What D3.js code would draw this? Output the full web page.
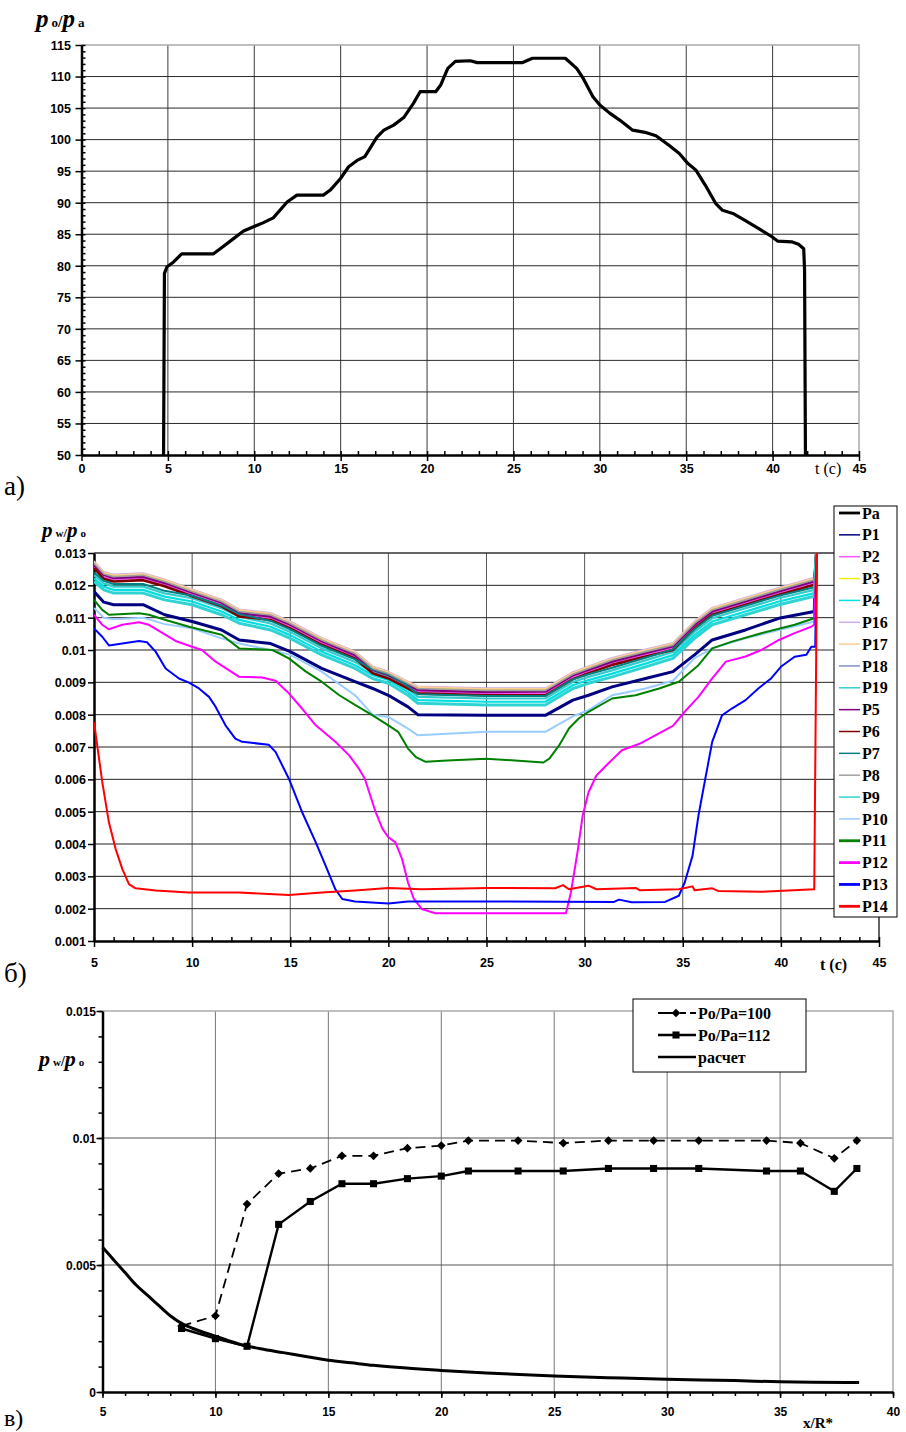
<!DOCTYPE html>
<html>
<head>
<meta charset="utf-8">
<script src="https://cdn.jsdelivr.net/npm/d3@7"></script>
<style>
  body { margin: 0; background: #fff; }
  svg text { font-family: "Liberation Sans", Arial, sans-serif; }
  .serif { font-family: "Liberation Serif", "Times New Roman", serif !important; }
</style>
</head>
<body>
<div id="chart"></div>
<script>
// ---------- chart a): p0/pa versus t ----------
var tTop = [4.75, 4.8, 4.94, 5.33, 5.8, 7.64, 8.03, 8.8, 9.38, 9.96, 10.5, 11.1, 11.9, 12.47, 14.0, 14.4, 14.98, 15.46, 15.95, 16.4, 17.1, 17.5, 18.07, 18.65, 19.2, 19.6, 20.5, 20.8, 21.2, 21.64, 22.5, 22.9, 25.5, 26.1, 28.0, 28.66, 29.04, 29.6, 30.0, 30.57, 31.15, 31.9, 32.7, 33.25, 34.0, 34.6, 35.1, 35.55, 36.1, 36.7, 37.1, 37.7, 38.4, 39.2, 39.96, 40.3, 41.1, 41.5, 41.8, 41.85, 41.9];
var poPa = [50, 78.8, 79.8, 80.6, 81.9, 81.9, 82.7, 84.3, 85.5, 86.2, 86.8, 87.6, 90.1, 91.2, 91.2, 92.0, 93.8, 95.7, 96.7, 97.3, 100.4, 101.5, 102.3, 103.5, 105.7, 107.6, 107.6, 108.7, 111.3, 112.4, 112.5, 112.2, 112.2, 112.9, 112.9, 111.3, 109.7, 106.8, 105.5, 104.2, 103.1, 101.5, 101.1, 100.6, 99.1, 97.8, 96.2, 95.2, 92.8, 89.9, 88.8, 88.3, 87.2, 85.9, 84.6, 83.9, 83.8, 83.4, 82.7, 79.3, 50];
var topXTicks = [0, 5, 10, 15, 20, 25, 30, 35, 40, 45];
var topYTicks = [50, 55, 60, 65, 70, 75, 80, 85, 90, 95, 100, 105, 110, 115];

// ---------- chart б): pw/p0 versus t, 19 gauges ----------
var midNames = ["Pa", "P1", "P2", "P3", "P4", "P16", "P17", "P18", "P19", "P5", "P6", "P7", "P8", "P9", "P10", "P11", "P12", "P13", "P14"];
var midColors = ["#000000", "#000080", "#ff55ff", "#f5f000", "#00e0e0", "#c8b0e8", "#ffcc99", "#7f90c8", "#33cccc", "#800080", "#800000", "#008080", "#a0a0a0", "#2fd3d3", "#99ccff", "#008000", "#ff00ff", "#0000ff", "#ff0000"];

var tBand = [5, 5.5, 6, 7.5, 8.6, 10, 11.5, 12.4, 14, 15, 16.6, 18.3, 19.2, 20, 21, 21.5, 25, 28, 29.4, 30.2, 31.4, 33.1, 34.5, 35.6, 36.5, 38.2, 39.9, 41.7, 41.85];
var vP1  = [.01181, .01148, .01140, .01140, .01109, .01088, .01062, .01031, .01020, .00995, .00943, .00902, .00881, .00860, .00824, .00800, .00798, .00798, .00845, .00860, .00886, .00912, .00933, .00985, .01031, .01062, .01098, .01119, .0135];
var vP2  = [.01258, .01226, .01218, .01222, .01203, .01172, .01141, .01110, .01099, .01073, .01022, .00980, .00934, .00918, .00887, .00872, .00866, .00866, .00916, .00934, .00960, .00986, .01006, .01073, .01115, .01146, .01177, .01208, .0135];
var vP3  = [.01270, .01238, .01230, .01234, .01215, .01184, .01153, .01122, .01111, .01085, .01034, .00992, .00946, .00930, .00899, .00884, .00878, .00878, .00928, .00946, .00972, .00998, .01018, .01085, .01127, .01158, .01189, .01220, .0135];
var vP4  = [.01222, .01196, .01186, .01186, .01165, .01150, .01119, .01093, .01072, .01046, .00995, .00953, .00922, .00907, .00870, .00845, .00840, .00840, .00891, .00907, .00927, .00958, .00984, .01046, .01088, .01119, .01150, .01176, .0135];
var vP16 = [.01275, .01242, .01234, .01238, .01219, .01188, .01157, .01126, .01115, .01089, .01038, .00996, .00950, .00934, .00903, .00888, .00882, .00882, .00932, .00950, .00976, .01002, .01022, .01089, .01131, .01162, .01193, .01224, .0135];
var vP17 = [.01273, .01240, .01232, .01236, .01217, .01186, .01155, .01124, .01113, .01087, .01036, .00994, .00948, .00932, .00901, .00886, .00880, .00880, .00930, .00948, .00974, .01000, .01020, .01087, .01129, .01160, .01191, .01222, .0135];
var vP18 = [.01265, .01232, .01224, .01228, .01209, .01178, .01147, .01116, .01105, .01079, .01028, .00986, .00940, .00924, .00893, .00878, .00872, .00872, .00922, .00940, .00966, .00992, .01012, .01079, .01121, .01152, .01183, .01214, .0135];
var vP19 = [.01232, .01206, .01196, .01196, .01175, .01160, .01129, .01103, .01082, .01056, .01005, .00963, .00932, .00917, .00880, .00855, .00850, .00850, .00901, .00917, .00937, .00968, .00994, .01056, .01098, .01129, .01160, .01186, .0135];
var vP5  = [.01262, .01232, .01222, .01226, .01207, .01177, .01146, .01114, .01103, .01078, .01027, .00984, .00938, .00922, .00891, .00876, .00870, .00871, .00921, .00938, .00964, .00990, .01011, .01078, .01119, .01150, .01181, .01212, .0135];
var vP6  = [.01253, .01220, .01212, .01216, .01197, .01166, .01135, .01104, .01093, .01067, .01016, .00974, .00928, .00912, .00881, .00866, .00860, .00860, .00910, .00928, .00954, .00980, .01000, .01067, .01109, .01140, .01171, .01202, .0135];
var vP7  = [.01240, .01214, .01204, .01204, .01183, .01168, .01137, .01111, .01090, .01064, .01013, .00971, .00940, .00925, .00888, .00863, .00858, .00858, .00909, .00925, .00945, .00976, .01002, .01064, .01106, .01137, .01168, .01194, .0135];
var vP8  = [.01268, .01235, .01227, .01231, .01212, .01181, .01150, .01119, .01108, .01082, .01031, .00989, .00943, .00927, .00896, .00881, .00875, .00875, .00925, .00943, .00969, .00995, .01015, .01082, .01124, .01155, .01186, .01217, .0135];
var vP9  = [.01212, .01186, .01176, .01176, .01155, .01140, .01109, .01083, .01062, .01036, .00985, .00943, .00912, .00897, .00860, .00835, .00830, .00830, .00881, .00897, .00917, .00948, .00974, .01036, .01078, .01109, .01140, .01166, .0135];
var vP10 = [.01130, .01100, .01095, .01100, .01080, .01067, .01036, .01020, .01000, .00985, .00933, .00860, .00800, .00793, .00757, .00736, .00747, .00747, .00795, .00814, .00860, .00881, .00905, .00975, .01005, .01036, .01062, .01088, .0135];

var tP11 = [5, 5.42, 5.76, 7.3, 7.8, 8.65, 9.84, 11.5, 12.4, 14.1, 14.93, 15.8, 16.6, 17.5, 18.3, 19.2, 20, 20.5, 21, 21.4, 21.9, 23, 25, 27.9, 28.2, 28.7, 29.2, 29.7, 30.2, 31.4, 32.6, 33.8, 34.8, 35.8, 36.5, 37.5, 39, 40.7, 41.7, 41.85];
var vP11 = [.01155, .01124, .01109, .01114, .01109, .01093, .01072, .01047, .01005, .01000, .00974, .00933, .00902, .00860, .00830, .00798, .00767, .00747, .00695, .00669, .00654, .00658, .00664, .00652, .00664, .00705, .00757, .00788, .00809, .00850, .00860, .00881, .00902, .00953, .01005, .01026, .01052, .01078, .01098, .0135];
var tP12 = [5, 5.42, 5.76, 6.44, 7.3, 7.8, 8.65, 9.16, 10, 10.5, 11.2, 11.87, 12.4, 13.57, 14.25, 14.93, 15.6, 16.3, 17.3, 18, 18.5, 18.8, 19.35, 19.7, 20, 20.36, 20.7, 21, 21.3, 21.7, 22.4, 25, 29.05, 29.3, 29.65, 29.9, 30.2, 30.6, 31.1, 31.9, 32.8, 33.6, 34.5, 35.1, 35.8, 36.5, 37.2, 38.2, 39, 39.9, 40.7, 41.55, 41.7, 41.85];
var vP12 = [.01109, .01078, .01064, .01078, .01086, .01078, .01047, .01028, .01010, .01000, .00964, .00938, .00917, .00915, .00905, .00866, .00819, .00767, .00716, .00674, .00633, .00602, .00499, .00447, .00421, .00405, .00353, .00281, .00230, .00199, .00186, .00186, .00186, .00250, .00380, .00488, .00560, .00612, .00643, .00690, .00710, .00736, .00765, .00809, .00855, .00912, .00964, .00980, .01000, .01031, .01052, .01072, .01078, .0135];
var tP13 = [5, 5.42, 5.76, 6.44, 7.3, 7.7, 8.14, 8.65, 9.33, 9.84, 10.35, 10.86, 11.2, 11.7, 12.2, 12.55, 13.9, 14.25, 14.93, 15.6, 16.3, 16.8, 17.3, 17.65, 18.3, 20, 21, 25, 31.5, 31.75, 32.4, 34.1, 34.8, 35.1, 35.5, 35.8, 36.15, 36.5, 37, 37.5, 38.2, 38.85, 39.5, 40, 40.7, 41.3, 41.55, 41.75, 41.85];
var vP13 = [.01067, .01041, .01014, .01020, .01028, .01024, .00995, .00943, .00912, .00899, .00881, .00855, .00824, .00767, .00726, .00716, .00707, .00685, .00602, .00499, .00405, .00333, .00260, .00230, .00222, .00216, .00222, .00222, .00221, .00228, .00220, .00221, .00240, .00281, .00364, .00488, .00602, .00716, .00798, .00819, .00845, .00881, .00912, .00948, .00979, .00985, .01010, .01010, .0135];
var tP14 = [5, 5.42, 5.76, 6.1, 6.44, 6.78, 7.12, 8.14, 9.84, 12.4, 14.93, 16.6, 18.3, 20, 21.7, 25.1, 28.5, 28.9, 29.2, 30.2, 30.6, 32.6, 32.8, 34.8, 35.5, 35.6, 36.5, 36.8, 39, 41.7, 41.85];
var vP14 = [.00778, .00592, .00467, .00385, .00323, .00276, .00263, .00256, .00250, .00250, .00242, .00250, .00256, .00264, .00260, .00264, .00263, .00273, .00260, .00271, .00260, .00264, .00257, .00260, .00269, .00257, .00263, .00255, .00252, .00260, .0135];

var midXTicks = [5, 10, 15, 20, 25, 30, 35, 40, 45];
var midYTicks = [0.001, 0.002, 0.003, 0.004, 0.005, 0.006, 0.007, 0.008, 0.009, 0.01, 0.011, 0.012, 0.013];

// ---------- chart в): pw/p0 versus x/R* ----------
var xPts = [8.5, 10, 11.4, 12.8, 14.2, 15.6, 17, 18.5, 20, 21.2, 23.4, 25.4, 27.4, 29.4, 31.4, 34.4, 35.9, 37.4, 38.4];
var pw100 = [0.0026, 0.0030, 0.0074, 0.0086, 0.0088, 0.0093, 0.0093, 0.0096, 0.0097, 0.0099, 0.0099, 0.0098, 0.0099, 0.0099, 0.0099, 0.0099, 0.0098, 0.0092, 0.0099];
var pw112 = [0.0025, 0.0021, 0.0018, 0.0066, 0.0075, 0.0082, 0.0082, 0.0084, 0.0085, 0.0087, 0.0087, 0.0087, 0.0088, 0.0088, 0.0088, 0.0087, 0.0087, 0.0079, 0.0088];
var xCalc = [5, 5.5, 6, 6.5, 7, 7.5, 8, 8.5, 9, 10, 11, 12, 13, 14, 15, 16, 17, 18, 20, 22, 25, 28, 30, 33, 35, 38.5];
var pwCalc = [0.0057, 0.0052, 0.0047, 0.0042, 0.0038, 0.0034, 0.0030, 0.0027, 0.0025, 0.0022, 0.0019, 0.0017, 0.00155, 0.0014, 0.00125, 0.00115, 0.00105, 0.00097, 0.00085, 0.00075, 0.00063, 0.00055, 0.0005, 0.00045, 0.0004, 0.00037];
var botXTicks = [5, 10, 15, 20, 25, 30, 35, 40];
var botYTicks = [0, 0.005, 0.01, 0.015];
var botLegend = ["Po/Pa=100", "Po/Pa=112", "расчет"];

var svg = d3.select("#chart").append("svg")
    .attr("width", 906)
    .attr("height", 1432);

// grid, frame and axes for one panel
function panel(o) {
  var x = o.x, y = o.y;
  var xl = x.range()[0], xr = x.range()[1], yb = y.range()[0], yt = y.range()[1];
  var g = svg.append("g");

  g.selectAll(null).data(o.xGrid).enter().append("line")
    .attr("x1", function(d) { return x(d); }).attr("x2", function(d) { return x(d); })
    .attr("y1", yb).attr("y2", yt)
    .attr("stroke", o.vGrid).attr("stroke-width", 1);
  g.selectAll(null).data(o.yGrid).enter().append("line")
    .attr("x1", xl).attr("x2", xr)
    .attr("y1", function(d) { return y(d); }).attr("y2", function(d) { return y(d); })
    .attr("stroke", o.hGrid).attr("stroke-width", 1);
  // plot area border (top, right)
  g.append("path")
    .attr("d", "M" + xl + "," + yt + "H" + xr + "V" + yb)
    .attr("fill", "none").attr("stroke", o.border).attr("stroke-width", 1.5);

  // minor ticks
  g.append("g").attr("transform", "translate(0," + yb + ")")
    .call(d3.axisBottom(x).tickValues(o.xMinor).tickSize(o.xMinorSize).tickFormat(""))
    .call(function(s) { s.select(".domain").remove(); });
  if (o.yMinor) {
    g.append("g").attr("transform", "translate(" + xl + ",0)")
      .call(d3.axisLeft(y).tickValues(o.yMinor).tickSize(o.yMinorSize).tickFormat(""))
      .call(function(s) { s.select(".domain").remove(); });
  }

  var gx = g.append("g").attr("transform", "translate(0," + yb + ")")
    .call(d3.axisBottom(x).tickValues(o.xTicks).tickSize(6).tickSizeOuter(0).tickFormat(o.xFmt));
  gx.selectAll("text").attr("y", o.xLabelY - yb).attr("dy", 0)
    .style("font-size", o.fontSize + "px").style("font-weight", "bold");

  var gy = g.append("g").attr("transform", "translate(" + xl + ",0)")
    .call(d3.axisLeft(y).tickValues(o.yTicks).tickSize(6).tickSizeOuter(0).tickFormat(o.yFmt));
  gy.selectAll("text").attr("x", o.yLabelX - xl).attr("dy", "0.35em")
    .style("font-size", o.fontSize + "px").style("font-weight", "bold");

  g.selectAll(".domain").attr("stroke", "#000").attr("stroke-width", 2.5);
  g.selectAll(".tick line").attr("stroke", "#000").attr("stroke-width", 1.5);
  g.selectAll(".tick text").attr("fill", "#000");
  return g;
}

function ratioLabel(x, y, a, b, big) {
  var t = svg.append("text").attr("class", "serif")
    .attr("x", x).attr("y", y)
    .style("font-weight", "bold");
  t.append("tspan").text("p").style("font-style", "italic").style("font-size", big + "px");
  t.append("tspan").text(a).attr("dx", 3).style("font-size", Math.round(big * 0.52) + "px");
  t.append("tspan").text("/").style("font-size", Math.round(big * 0.62) + "px");
  t.append("tspan").text("p").style("font-style", "italic").style("font-size", big + "px");
  t.append("tspan").text(b).attr("dx", 3).style("font-size", Math.round(big * 0.52) + "px");
}

function plain(x, y, s, size, bold) {
  svg.append("text").attr("class", "serif")
    .attr("x", x).attr("y", y)
    .style("font-size", size + "px")
    .style("font-weight", bold ? "bold" : "normal")
    .text(s);
}

// ================= a) =================
var xTop = d3.scaleLinear().domain([0, 45]).range([81.5, 859]);
var yTop = d3.scaleLinear().domain([50, 115]).range([455, 45]);

panel({
  x: xTop, y: yTop,
  xGrid: [5, 10, 15, 20, 25, 30, 35, 40], yGrid: [55, 60, 65, 70, 75, 80, 85, 90, 95, 100, 105, 110],
  vGrid: "#3a3a3a", hGrid: "#2a2a2a", border: "#aaa",
  xTicks: topXTicks, yTicks: topYTicks,
  xMinor: d3.range(0, 46, 1), xMinorSize: -4,
  yMinor: d3.range(50, 116, 1), yMinorSize: -4,
  xFmt: d3.format("d"), yFmt: d3.format("d"),
  xLabelY: 473, yLabelX: 71, fontSize: 12.5
});

svg.append("path")
  .datum(tTop.map(function(t, i) { return [t, poPa[i]]; }))
  .attr("fill", "none").attr("stroke", "#000").attr("stroke-width", 3.2)
  .attr("stroke-linejoin", "round")
  .attr("d", d3.line().x(function(d) { return xTop(d[0]); }).y(function(d) { return yTop(d[1]); }));

ratioLabel(36, 27, "o", "a", 25);
plain(815, 474, "t (c)", 16, false);
plain(4, 495, "а)", 27, false);

// ================= б) =================
var xMid = d3.scaleLinear().domain([5, 45]).range([94, 879]);
var yMid = d3.scaleLinear().domain([0.001, 0.013]).range([941, 553]);
var midFmt = function(d) { return String(+d.toFixed(3)); };

panel({
  x: xMid, y: yMid,
  xGrid: [10, 15, 20, 25, 30, 35, 40], yGrid: midYTicks.slice(1, 12),
  vGrid: "#555", hGrid: "#222", border: "#333",
  xTicks: midXTicks, yTicks: midYTicks,
  xMinor: d3.range(5, 46, 1), xMinorSize: -4,
  xFmt: d3.format("d"), yFmt: midFmt,
  xLabelY: 967, yLabelX: 86, fontSize: 12.5
});

svg.append("clipPath").attr("id", "clipMid")
  .append("rect").attr("x", 94).attr("y", 553).attr("width", 785).attr("height", 388);

var midSeries = [
  { name: "P1", t: tBand, v: vP1, w: 3 },
  { name: "P2", t: tBand, v: vP2, w: 1.6 },
  { name: "P3", t: tBand, v: vP3, w: 1.6 },
  { name: "P4", t: tBand, v: vP4, w: 2.2 },
  { name: "P16", t: tBand, v: vP16, w: 1.6 },
  { name: "P17", t: tBand, v: vP17, w: 1.6 },
  { name: "P18", t: tBand, v: vP18, w: 1.6 },
  { name: "P19", t: tBand, v: vP19, w: 2.2 },
  { name: "P5", t: tBand, v: vP5, w: 2.2 },
  { name: "P6", t: tBand, v: vP6, w: 2.6 },
  { name: "P7", t: tBand, v: vP7, w: 2 },
  { name: "P8", t: tBand, v: vP8, w: 1.6 },
  { name: "P9", t: tBand, v: vP9, w: 3 },
  { name: "P10", t: tBand, v: vP10, w: 2 },
  { name: "P11", t: tP11, v: vP11, w: 2 },
  { name: "P12", t: tP12, v: vP12, w: 2 },
  { name: "P13", t: tP13, v: vP13, w: 2 },
  { name: "P14", t: tP14, v: vP14, w: 2 }
];

var midLine = d3.line()
  .x(function(d) { return xMid(d[0]); })
  .y(function(d) { return yMid(d[1]); });

svg.append("g").attr("clip-path", "url(#clipMid)")
  .selectAll("path")
  .data(midSeries)
  .enter()
  .append("path")
    .attr("fill", "none")
    .attr("stroke", function(d) { return midColors[midNames.indexOf(d.name)]; })
    .attr("stroke-width", function(d) { return d.w; })
    .attr("stroke-linejoin", "round")
    .attr("d", function(d) { return midLine(d.t.map(function(t, i) { return [t, d.v[i]]; })); });

// legend
var legMid = svg.append("g");
legMid.append("rect").attr("x", 834).attr("y", 506).attr("width", 63).attr("height", 411)
  .attr("fill", "#fff").attr("stroke", "#000").attr("stroke-width", 1);
var legItems = legMid.selectAll("g.item").data(midNames).enter().append("g")
  .attr("transform", function(d, i) { return "translate(0," + (513 + i * 21.85) + ")"; });
legItems.append("line").attr("x1", 839).attr("x2", 860)
  .attr("stroke", function(d, i) { return midColors[i]; })
  .attr("stroke-width", function(d, i) { return (i === 0 || i >= 15) ? 2.8 : 1.5; });
legItems.append("text").attr("class", "serif").attr("x", 862).attr("dy", "0.35em")
  .style("font-size", "16px").style("font-weight", "bold")
  .text(function(d) { return d; });

ratioLabel(42, 537, "w", "o", 21);
plain(820, 970, "t (c)", 16, true);
plain(4, 982, "б)", 27, false);

// ================= в) =================
var xBot = d3.scaleLinear().domain([5, 40]).range([102.5, 893]);
var yBot = d3.scaleLinear().domain([0, 0.015]).range([1392, 1011]);

panel({
  x: xBot, y: yBot,
  xGrid: [10, 15, 20, 25, 30, 35], yGrid: [0.005, 0.01],
  vGrid: "#777", hGrid: "#555", border: "#aaa",
  xTicks: botXTicks, yTicks: botYTicks,
  xMinor: d3.range(5, 41, 1), xMinorSize: 4,
  yMinor: d3.range(0, 0.0155, 0.001), yMinorSize: 4,
  xFmt: d3.format("d"), yFmt: function(d) { return String(+d.toFixed(3)); },
  xLabelY: 1416, yLabelX: 96, fontSize: 12
});

var botLine = d3.line()
  .x(function(d) { return xBot(d[0]); })
  .y(function(d) { return yBot(d[1]); });

var calcData = xCalc.map(function(x, i) { return [x, pwCalc[i]]; });
var d100 = xPts.map(function(x, i) { return [x, pw100[i]]; });
var d112 = xPts.map(function(x, i) { return [x, pw112[i]]; });

svg.append("path").datum(calcData)
  .attr("fill", "none").attr("stroke", "#000").attr("stroke-width", 3)
  .attr("d", botLine.curve(d3.curveMonotoneX));
botLine.curve(d3.curveLinear);

svg.append("path").datum(d100)
  .attr("fill", "none").attr("stroke", "#000").attr("stroke-width", 1.8)
  .attr("stroke-dasharray", "10,6")
  .attr("d", botLine);
svg.append("path").datum(d112)
  .attr("fill", "none").attr("stroke", "#000").attr("stroke-width", 2.4)
  .attr("d", botLine);

var diamond = d3.symbol().type(d3.symbolSquare).size(38);
var square = d3.symbol().type(d3.symbolSquare).size(50);

svg.append("g").selectAll("path").data(d100).enter().append("path")
  .attr("d", diamond)
  .attr("transform", function(d) { return "translate(" + xBot(d[0]) + "," + yBot(d[1]) + ")rotate(45)"; })
  .attr("fill", "#000");
svg.append("g").selectAll("path").data(d112).enter().append("path")
  .attr("d", square)
  .attr("transform", function(d) { return "translate(" + xBot(d[0]) + "," + yBot(d[1]) + ")"; })
  .attr("fill", "#000");

// legend
var legBot = svg.append("g");
legBot.append("rect").attr("x", 633).attr("y", 999).attr("width", 173).attr("height", 73)
  .attr("fill", "#fff").attr("stroke", "#000").attr("stroke-width", 1);
var lb = legBot.selectAll("g.item").data(botLegend).enter().append("g")
  .attr("transform", function(d, i) { return "translate(0," + (1013 + i * 22) + ")"; });
lb.append("line").attr("x1", 658).attr("x2", 696)
  .attr("stroke", "#000").attr("stroke-width", function(d, i) { return i === 0 ? 1.8 : 2.4; })
  .attr("stroke-dasharray", function(d, i) { return i === 0 ? "17,5,6,4" : null; });
lb.filter(function(d, i) { return i === 0; }).append("path")
  .attr("d", diamond).attr("transform", "translate(676,0)rotate(45)").attr("fill", "#000");
lb.filter(function(d, i) { return i === 1; }).append("path")
  .attr("d", square).attr("transform", "translate(676,0)").attr("fill", "#000");
lb.append("text").attr("class", "serif").attr("x", 698).attr("dy", "0.35em")
  .style("font-size", "16px").style("font-weight", "bold")
  .text(function(d) { return d; });

ratioLabel(39, 1066, "w", "o", 22);
plain(803, 1428, "x/R*", 15, true);
plain(4, 1426, "в)", 24, false);
</script>
</body>
</html>
